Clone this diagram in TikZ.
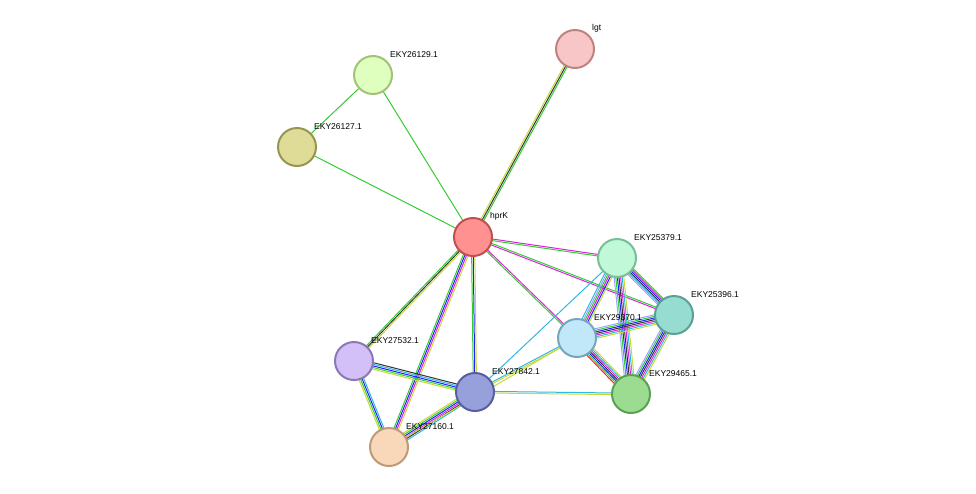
\documentclass[tikz,border=0pt]{standalone}
\usepackage{fontspec}
\setmainfont{Liberation Sans}
\usetikzlibrary{calc}
\definecolor{eg}{HTML}{33CC33}
\definecolor{er}{HTML}{FF2020}
\definecolor{eb}{HTML}{2020FF}
\definecolor{ek}{HTML}{333333}
\definecolor{em}{HTML}{DD22DD}
\definecolor{ec}{HTML}{30B8E0}
\definecolor{ey}{HTML}{C8D83A}
\definecolor{ep}{HTML}{A0A0FF}
\newcommand{\medge}[3]{%
  \foreach \c [count=\i] in {#3} {\xdef\nn{\i}}%
  \foreach \c [count=\i] in {#3} {%
    \pgfmathsetmacro{\o}{(\i-(\nn+1)/2)*1.6}%
    \draw[draw=\c, line width=1pt] ($(#1)!\o pt!90:(#2)$) -- ($(#2)!\o pt!-90:(#1)$);
  }%
}
\tikzset{pn/.style={circle, minimum size=38pt, inner sep=0pt, line width=2pt},
lb/.style={font=\fontsize{8.5}{10}\selectfont, anchor=south west, inner sep=1pt}}
\begin{document}
\begin{tikzpicture}[x=1pt,y=-1pt]
\useasboundingbox (0,0) rectangle (976,493);
\coordinate (hprK) at (473,237);
\coordinate (lgt) at (575,49);
\coordinate (a129) at (373,75);
\coordinate (a127) at (297,147);
\coordinate (a379) at (617,258);
\coordinate (a396) at (674,315);
\coordinate (a370) at (577,338);
\coordinate (a465) at (631,394);
\coordinate (a532) at (354,361);
\coordinate (a842) at (475,392);
\coordinate (a160) at (389,447);
\medge{hprK}{lgt}{eg,ek,ey}
\medge{hprK}{a129}{eg}
\medge{hprK}{a127}{eg}
\medge{a129}{a127}{eg}
\medge{hprK}{a379}{eg,em}
\medge{hprK}{a396}{em,eg}
\medge{hprK}{a370}{eg,em}
\medge{hprK}{a842}{eg,eb,ey}
\medge{hprK}{a532}{eg,ek,ey}
\medge{hprK}{a160}{eg,eb,em,ey}
\medge{a532}{a842}{ey,eg,eb,ec,ek}
\medge{a532}{a160}{ey,eg,eb,ec}
\medge{a842}{a160}{ey,eg,eb,em,ek,ec}
\medge{a842}{a465}{ey,ec}
\medge{a842}{a370}{ey,ec}
\medge{a842}{a379}{ec}
\medge{a160}{a370}{ey}
\medge{a379}{a396}{ep,ec,ek,eb,em,eg}
\medge{a379}{a370}{ec,ep,eg,em,eb,ey}
\medge{a379}{a465}{ep,eg,eb,ek,em,ec,ey}
\medge{a396}{a370}{ep,eg,eb,ek,em,ec,ey}
\medge{a396}{a465}{ep,eg,eb,ek,em,ec,ey}
\medge{a370}{a465}{er,eg,eb,ek,em,ec,ey}
\node[pn, fill={rgb,255:red,255;green,145;blue,145}, draw={rgb,255:red,192;green,80;blue,80}] (n1) at (hprK) {};
\node[pn, fill={rgb,255:red,248;green,198;blue,198}, draw={rgb,255:red,190;green,130;blue,130}] (n2) at (lgt) {};
\node[pn, fill={rgb,255:red,222;green,255;blue,190}, draw={rgb,255:red,160;green,195;blue,120}] (n3) at (a129) {};
\node[pn, fill={rgb,255:red,222;green,220;blue,150}, draw={rgb,255:red,150;green,150;blue,80}] (n4) at (a127) {};
\node[pn, fill={rgb,255:red,192;green,248;blue,216}, draw={rgb,255:red,120;green,190;blue,150}] (n5) at (a379) {};
\node[pn, fill={rgb,255:red,150;green,220;blue,208}, draw={rgb,255:red,90;green,160;blue,150}] (n6) at (a396) {};
\node[pn, fill={rgb,255:red,192;green,232;blue,248}, draw={rgb,255:red,120;green,165;blue,190}] (n7) at (a370) {};
\node[pn, fill={rgb,255:red,156;green,220;blue,144}, draw={rgb,255:red,90;green,160;blue,85}] (n8) at (a465) {};
\node[pn, fill={rgb,255:red,212;green,192;blue,248}, draw={rgb,255:red,140;green,120;blue,180}] (n9) at (a532) {};
\node[pn, fill={rgb,255:red,152;green,160;blue,220}, draw={rgb,255:red,85;green,95;blue,160}] (n10) at (a842) {};
\node[pn, fill={rgb,255:red,248;green,216;blue,184}, draw={rgb,255:red,190;green,155;blue,120}] (n11) at (a160) {};
\node[lb] (l1) at (489,221) {hprK};
\node[lb] (l2) at (591,33) {lgt};
\node[lb] (l3) at (389,59) {EKY26129.1};
\node[lb] (l4) at (313,131) {EKY26127.1};
\node[lb] (l5) at (633,242) {EKY25379.1};
\node[lb] (l6) at (690,299) {EKY25396.1};
\node[lb] (l7) at (593,322) {EKY29370.1};
\node[lb] (l8) at (648,378) {EKY29465.1};
\node[lb] (l9) at (370,345) {EKY27532.1};
\node[lb] (l10) at (491,376) {EKY27842.1};
\node[lb] (l11) at (405,431) {EKY27160.1};
\end{tikzpicture}
\end{document}
